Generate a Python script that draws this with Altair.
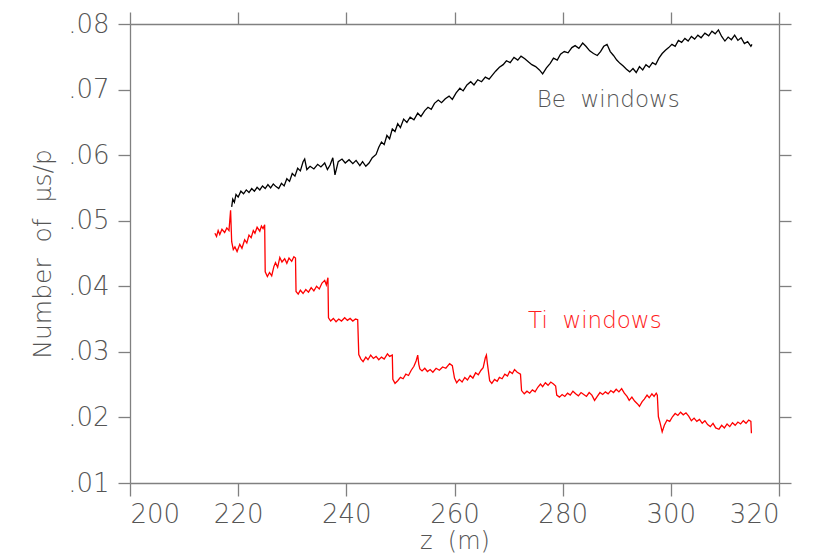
import altair as alt
import pandas as pd

# Be windows: muon yield per proton along the decay channel
be_z = [218.8, 219.0, 219.3, 219.6, 220.0, 220.5, 221.0, 221.5, 222.0, 222.5,
        223.0, 223.5, 224.0, 224.5, 225.0, 225.5, 226.0, 226.5, 227.0, 227.5,
        228.0, 228.5, 229.0, 229.5, 230.0, 230.5, 231.0, 231.5, 232.0, 232.3,
        232.7, 233.3, 234.0, 234.7, 235.3, 236.0, 236.5, 237.0, 237.5, 237.9,
        238.5, 239.2, 239.8, 240.5, 241.2, 241.8, 242.5, 243.0, 243.6, 244.2,
        244.8, 245.5, 246.0, 246.5, 247.0, 247.5, 248.0, 248.5, 249.0, 249.5,
        250.0, 250.6, 251.2, 251.8, 252.5, 253.2, 253.8, 254.5, 255.1, 255.7,
        256.3, 257.0, 257.6, 258.3, 259.0, 259.6, 260.3, 261.0, 261.6, 262.3,
        263.0, 263.6, 264.3, 265.0, 265.7, 266.4, 267.0, 267.6, 268.3, 269.0,
        269.6, 270.3, 271.0, 271.7, 272.3, 273.0, 273.7, 274.3, 275.0, 275.7,
        276.3, 277.0, 277.7, 278.3, 279.0, 279.6, 280.3, 281.0, 281.7, 282.3,
        283.0, 283.7, 284.3, 285.0, 285.7, 286.4, 287.0, 287.6, 288.2, 288.8,
        289.4, 290.0, 290.6, 291.2, 291.8, 292.4, 293.0, 293.6, 294.2, 294.8,
        295.4, 296.0, 296.6, 297.2, 297.8, 298.4, 299.0, 299.6, 300.2, 300.8,
        301.4, 302.0, 302.6, 303.2, 303.8, 304.4, 305.0, 305.6, 306.3, 307.0,
        307.6, 308.2, 308.8, 309.4, 310.0, 310.6, 311.2, 311.8, 312.4, 313.0,
        313.6, 314.2, 314.8, 315.0]
be_v = [.0521, .0533, .0528, .0540, .0536, .0545, .0541, .0547, .0543, .0549,
        .0545, .0551, .0547, .0553, .0549, .0555, .0550, .0556, .0552, .0549,
        .0557, .0553, .0564, .0560, .0572, .0568, .0580, .0576, .0590, .0594,
        .0578, .0583, .0579, .0586, .0582, .0588, .0578, .0585, .0596, .0570,
        .0590, .0594, .0588, .0593, .0587, .0592, .0584, .0590, .0583, .0588,
        .0596, .0601, .0612, .0620, .0616, .0630, .0625, .0640, .0636, .0648,
        .0642, .0655, .0650, .0658, .0654, .0664, .0659, .0668, .0673, .0670,
        .0679, .0684, .0680, .0686, .0690, .0685, .0695, .0702, .0698, .0707,
        .0712, .0707, .0715, .0712, .0719, .0716, .0722, .0728, .0734, .0738,
        .0744, .0741, .0749, .0745, .0751, .0747, .0742, .0738, .0735, .0730,
        .0724, .0733, .0740, .0748, .0745, .0754, .0758, .0756, .0764, .0767,
        .0763, .0771, .0766, .0759, .0755, .0752, .0758, .0766, .0769, .0758,
        .0752, .0745, .0740, .0736, .0731, .0727, .0732, .0726, .0735, .0730,
        .0738, .0734, .0741, .0738, .0748, .0755, .0760, .0764, .0769, .0766,
        .0775, .0772, .0778, .0774, .0781, .0777, .0783, .0779, .0786, .0782,
        .0789, .0785, .0791, .0781, .0774, .0780, .0776, .0783, .0775, .0779,
        .0770, .0773, .0766, .0769]

# Ti windows
ti_z = [215.7, 216.0, 216.3, 216.6, 217.0, 217.5, 217.9, 218.3, 218.6, 218.8,
        219.1, 219.4, 219.8, 220.3, 220.7, 221.2, 221.6, 222.0, 222.4, 222.8,
        223.1, 223.5, 224.0, 224.3, 224.6, 224.9,
        225.0, 225.4, 225.8, 226.2, 226.6, 226.9, 227.3, 227.7, 228.1, 228.6,
        229.0, 229.4, 229.9, 230.3, 230.6,
        230.7, 231.1, 231.5, 232.0, 232.5, 233.0, 233.5, 234.0, 234.5, 235.0,
        235.5, 236.0, 236.3, 236.6,
        236.7, 237.1, 237.6, 238.1, 238.6, 239.1, 239.7, 240.2, 240.7, 241.2,
        241.7, 242.1,
        242.3, 242.7, 243.1, 243.6, 244.0, 244.5, 245.0, 245.5, 246.0, 246.5,
        247.0, 247.6, 248.0, 248.5,
        248.6, 249.0, 249.5, 250.0, 250.5, 251.0, 251.5, 252.0, 252.5, 252.9,
        253.2, 253.4, 253.6, 254.0, 254.5, 255.0, 255.5, 256.0, 256.6, 257.2,
        257.8, 258.4, 259.1, 259.6,
        260.0, 260.4, 260.9, 261.4, 261.9, 262.4, 262.9, 263.4, 263.9, 264.4,
        264.9, 265.3, 265.7, 265.9, 266.1,
        266.5, 266.9, 267.4, 267.9, 268.3, 268.8, 269.3, 269.8, 270.2, 270.7,
        271.1, 271.6, 272.2,
        272.4, 272.9, 273.4, 273.9, 274.4, 274.9, 275.4, 275.9, 276.3, 276.8,
        277.3, 277.8, 278.3, 278.7,
        278.9, 279.4, 279.9, 280.4, 280.9, 281.4, 281.9, 282.4, 282.9, 283.4,
        283.9, 284.4, 284.9, 285.4, 285.9, 286.4, 286.9, 287.4, 287.9, 288.4,
        288.9, 289.4, 289.9, 290.4, 290.9, 291.4, 291.9, 292.3, 292.8, 293.3,
        293.8, 294.2, 294.7, 295.1, 295.6, 296.0, 296.5, 296.9, 297.3, 297.5,
        297.7, 298.0, 298.4, 298.8, 299.3, 299.8, 300.3, 300.8, 301.3, 301.8,
        302.3, 302.8, 303.3, 303.8, 304.3, 304.8, 305.3, 305.8, 306.3, 306.8,
        307.3, 307.8, 308.3, 308.9, 309.4, 309.9, 310.4, 310.9, 311.4, 311.9,
        312.4, 312.9, 313.4, 313.9, 314.4, 314.8, 314.9]
ti_v = [.0481, .0476, .0485, .0479, .0487, .0482, .0489, .0485, .0516, .0468,
        .0456, .0460, .0453, .0464, .0458, .0471, .0466, .0478, .0474, .0485,
        .0481, .0490, .0484, .0492, .0488, .0494,
        .0422, .0415, .0421, .0416, .0430, .0436, .0429, .0444, .0437, .0442,
        .0435, .0443, .0438, .0445, .0443,
        .0392, .0388, .0394, .0389, .0395, .0391, .0398, .0393, .0400, .0396,
        .0405, .0409, .0402, .0413,
        .0352, .0347, .0351, .0346, .0350, .0347, .0352, .0348, .0351, .0347,
        .0350, .0349,
        .0296, .0289, .0285, .0292, .0288, .0295, .0290, .0293, .0288, .0292,
        .0289, .0297, .0293, .0295,
        .0258, .0252, .0256, .0261, .0259, .0266, .0264, .0272, .0278, .0286,
        .0295, .0281, .0274, .0271, .0275, .0270, .0273, .0269, .0275, .0272,
        .0277, .0275, .0282, .0279,
        .0260, .0253, .0258, .0254, .0261, .0257, .0264, .0260, .0268, .0265,
        .0272, .0276, .0291, .0295, .0281,
        .0256, .0252, .0258, .0255, .0261, .0259, .0266, .0263, .0270, .0267,
        .0273, .0269, .0266,
        .0241, .0236, .0240, .0237, .0242, .0239, .0246, .0251, .0247, .0253,
        .0249, .0254, .0251, .0248,
        .0234, .0231, .0235, .0232, .0237, .0234, .0240, .0236, .0233, .0238,
        .0235, .0232, .0238, .0234, .0226, .0232, .0238, .0235, .0239, .0236,
        .0241, .0238, .0243, .0239, .0244, .0237, .0232, .0226, .0231, .0225,
        .0221, .0217, .0224, .0228, .0234, .0230, .0236, .0232, .0237, .0234,
        .0201, .0192, .0178, .0188, .0196, .0194, .0201, .0206, .0203, .0208,
        .0204, .0207, .0202, .0195, .0199, .0194, .0197, .0191, .0195, .0189,
        .0186, .0191, .0184, .0182, .0188, .0184, .0190, .0186, .0192, .0188,
        .0193, .0190, .0195, .0191, .0196, .0194, .0176]

series_names = ["Be", "Ti"]
series_colors = ["#000000", "#ff0000"]

label_text = ["Be\u00a0 windows", "Ti\u00a0 windows"]
label_z = [275.2, 273.6]
label_v = [0.0684, 0.0347]
label_color = ["#555555", "#ff2020"]

x_ticks = [200, 220, 240, 260, 280, 300, 320]
y_ticks = [0.01, 0.02, 0.03, 0.04, 0.05, 0.06, 0.07, 0.08]

df = pd.concat([
    pd.DataFrame({"z": be_z, "v": be_v, "series": "Be", "i": range(len(be_z))}),
    pd.DataFrame({"z": ti_z, "v": ti_v, "series": "Ti", "i": range(len(ti_z))}),
])
labels = pd.DataFrame({"z": label_z, "v": label_v, "t": label_text, "c": label_color})

FONT = "DejaVu Sans"
x_scale = alt.Scale(domain=[200, 320], nice=False, zero=False)
y_scale = alt.Scale(domain=[0.01, 0.08], nice=False, zero=False)
y_label = "replace(format(datum.value, '.2f'), '0.', '.')"

lines = alt.Chart(df).mark_line(strokeWidth=1.3, interpolate="linear").encode(
    x=alt.X("z:Q", scale=x_scale,
            axis=alt.Axis(orient="bottom", values=x_ticks, format="d",
                          title="z\u00a0 (m)", titlePadding=2)),
    y=alt.Y("v:Q", scale=y_scale,
            axis=alt.Axis(orient="left", values=y_ticks, labelExpr=y_label,
                          title="Number\u00a0 of\u00a0 \u03bcs/p", titlePadding=12)),
    color=alt.Color("series:N", scale=alt.Scale(domain=series_names, range=series_colors),
                    legend=None),
    detail="series:N",
    order="i:Q",
)

# mirrored axes on the top and right edges: ticks only
frame = alt.Chart(df).mark_point(opacity=0).encode(
    x=alt.X("z:Q", scale=x_scale,
            axis=alt.Axis(orient="top", values=x_ticks, labels=False, title=None)),
    y=alt.Y("v:Q", scale=y_scale,
            axis=alt.Axis(orient="right", values=y_ticks, labels=False, title=None)),
)

texts = alt.Chart(labels).mark_text(
    align="left", baseline="middle", font=FONT, fontSize=23, fontWeight=200
).encode(
    x=alt.X("z:Q", scale=x_scale, axis=None),
    y=alt.Y("v:Q", scale=y_scale, axis=None),
    text="t:N",
    color=alt.Color("c:N", scale=None),
)

chart = alt.layer(lines, frame, texts).resolve_axis(
    x="independent", y="independent"
).properties(
    width=649, height=459,
    autosize=alt.AutoSizeParams(type="none"),
    padding={"left": 130, "top": 24, "right": 37, "bottom": 72},
    background="#ffffff",
).configure_view(stroke=None).configure_axis(
    grid=False,
    domainColor="#808080", domainWidth=1.3,
    tickColor="#808080", tickWidth=1.3, tickSize=12,
    labelFont=FONT, labelFontSize=26, labelFontWeight=200, labelColor="#555555",
    labelPadding=5,
    titleFont=FONT, titleFontSize=24, titleColor="#555555", titleFontWeight=200,
).configure_axisLeft(labelPadding=9, titleFontSize=25).configure_axisBottom(tickSize=13)

chart.save("out.html", embed_options={"renderer": "svg", "actions": False})
